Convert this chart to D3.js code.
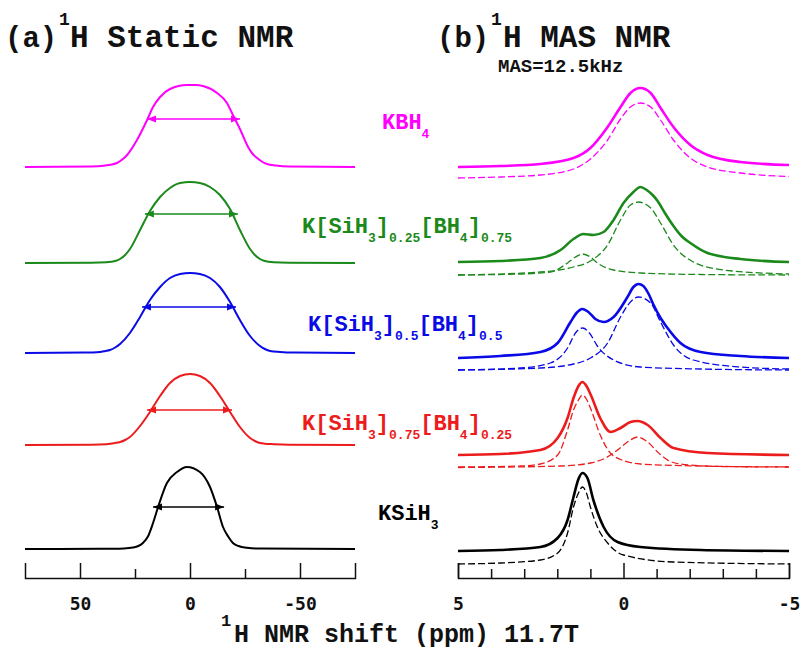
<!DOCTYPE html>
<html>
<head>
<meta charset="utf-8">
<script src="https://cdn.jsdelivr.net/npm/d3@7"></script>
<style>
  body { margin: 0; background: #fff; }
  svg { display: block; }
</style>
</head>
<body>
<svg id="chart" width="803" height="652"></svg>
<script>
// ---------------------------------------------------------------
// Samples (top to bottom) and their label pieces: [text, isSubscript]
// ---------------------------------------------------------------
const sampleNames = ["KBH4", "K[SiH3]0.25[BH4]0.75", "K[SiH3]0.5[BH4]0.5", "K[SiH3]0.75[BH4]0.25", "KSiH3"];
const labelParts = [
  [["KBH", 0], ["4", 1]],
  [["K[SiH", 0], ["3", 1], ["]", 0], ["0.25", 1], ["[BH", 0], ["4", 1], ["]", 0], ["0.75", 1]],
  [["K[SiH", 0], ["3", 1], ["]", 0], ["0.5", 1], ["[BH", 0], ["4", 1], ["]", 0], ["0.5", 1]],
  [["K[SiH", 0], ["3", 1], ["]", 0], ["0.75", 1], ["[BH", 0], ["4", 1], ["]", 0], ["0.25", 1]],
  [["KSiH", 0], ["3", 1]]
];

// ---------------------------------------------------------------
// (a) 1H static spectra: [shift (ppm), intensity (a.u.)]
// ---------------------------------------------------------------
const staticKBH4 = [[75,0],[45,0.5],[39,1.3],[35.5,2.5],[33.2,4],[30.5,8],[28.6,12],[24.1,27],[19.5,47],[16.8,60],[13.6,70],[9.1,78],[1.4,82],[-2.5,82],[-5.9,81],[-12.3,74],[-16.8,64],[-19.5,52],[-22.7,38],[-26.4,20],[-28.5,13],[-30.5,9],[-33,5],[-35,3],[-39,1.5],[-45,0.5],[-75,0]];
const staticMix25 = [[75,0],[45,0.3],[38,0.8],[34,2],[31.8,4],[29.5,8],[27.3,14],[22.7,33],[18.2,52],[13.6,66],[9.1,75],[4.5,80],[0,81],[-4.5,80],[-9.1,76],[-13.6,68],[-18.2,54],[-22.7,33],[-27.3,14],[-29.5,8],[-31.8,4],[-34,2],[-38,0.8],[-45,0.3],[-75,0]];
const staticMix50 = [[75,0],[48,0.4],[40.9,1],[38.5,2],[36.4,3],[34,5.5],[31.8,9],[27.3,20],[22.7,36],[18.2,53],[13.6,66],[9.1,75],[4.5,79],[0,80],[-4.5,79],[-9.1,75],[-13.6,66],[-18.2,51],[-22.7,33],[-27.3,17],[-31.8,7],[-34,4],[-36.4,2],[-40.9,1],[-48,0.4],[-75,0]];
const staticMix75 = [[75,0],[45,0.3],[38,0.8],[34,2],[31.8,3],[29.5,5],[27.3,8],[22.7,19],[18.2,33],[13.6,49],[9.1,62],[4.5,69],[0,71],[-4.5,69],[-9.1,62],[-13.6,49],[-18.2,33],[-22.7,18],[-27.3,7],[-29.5,4],[-31.8,2],[-34,1.3],[-38,0.8],[-45,0.3],[-75,0]];
const staticKSiH3 = [[75,0],[40.9,0.2],[30,0.6],[25.9,1.5],[23.5,3],[21.4,6],[19,13],[16.8,26],[14.5,42],[10.5,66],[5.9,77],[1.4,82],[-4.5,77],[-9.1,62],[-12.3,42],[-15,22],[-17.5,12],[-19.5,6],[-22,3],[-25.9,1.2],[-32,0.4],[-75,0]];
const staticSpectra = [staticKBH4, staticMix25, staticMix50, staticMix75, staticKSiH3];

// Line-width markers on the static spectra: left / right shift (ppm) and height (a.u.)
const widthLeft  = [19.5, 20.5, 21.8, 19.5, 16.8];
const widthRight = [-22.7, -21.8, -20.9, -19.1, -15.5];
const widthLevel = [48, 49, 46, 35, 42];

// ---------------------------------------------------------------
// (b) 1H MAS spectra: measured envelopes and fitted components
// ---------------------------------------------------------------
const masKBH4 = [[5,1],[3.72,2],[2.51,4],[1.51,10],[1.0,20],[0.48,41],[0.09,61],[-0.21,75],[-0.51,80],[-0.82,75],[-1.12,60],[-1.51,41],[-2.02,23],[-2.54,13],[-3.53,6],[-5,3]];
const masMix25 = [[5,3],[3.72,4],[2.51,7],[1.9,15],[1.51,26],[1.21,31],[0.91,30],[0.6,33],[0.3,45],[0,62],[-0.3,73],[-0.51,78],[-0.7,75],[-0.88,70],[-1.03,64],[-1.25,52],[-1.51,39],[-1.75,29],[-2.02,22],[-2.54,12],[-3.53,6],[-5,3]];
const masMix50 = [[5,2],[3.72,4],[2.51,8],[1.99,17],[1.6,38],[1.42,47],[1.24,51],[1.06,48],[0.85,41],[0.6,38],[0.3,43],[-0.12,63],[-0.3,73],[-0.45,76],[-0.6,74],[-0.76,66],[-0.91,55],[-1.12,42],[-1.33,32],[-1.72,17],[-2.33,8],[-3.53,4],[-5,2]];
const masMix75 = [[5,1],[3.72,2],[2.51,6],[1.99,18],[1.69,38],[1.51,58],[1.36,70],[1.24,74],[1.12,70],[1.0,62],[0.69,37],[0.39,24],[0.09,28],[-0.21,34],[-0.42,35],[-0.73,31],[-1.12,18],[-1.51,8],[-2.54,3],[-5,1]];
const masKSiH3 = [[5,1],[3.72,2],[2.51,5],[1.99,14],[1.69,32],[1.51,55],[1.36,73],[1.24,79],[1.09,74],[0.91,52],[0.6,25],[0.18,10],[-0.51,5],[-2.33,2],[-5,1]];
const masSpectra = [masKBH4, masMix25, masMix50, masMix75, masKSiH3];

// Fitted components: SiH3- site near 1.2 ppm, BH4- site near -0.5 ppm
const fitKBH4_BH4  = [[5,1],[3.72,2],[2.51,4],[1.51,10],[1.0,20],[0.48,39],[0.09,60],[-0.21,72],[-0.51,76],[-0.82,72],[-1.12,59],[-1.51,39],[-2.02,21],[-2.54,12],[-3.53,6],[-5,2.5]];
const fitMix25_SiH3 = [[5,1],[3.11,2],[2.21,4],[1.69,13],[1.45,19],[1.24,22],[1.0,19],[0.79,13],[0.3,6],[-0.51,3],[-2.33,1.5],[-5,1]];
const fitMix25_BH4  = [[5,1],[2.51,4],[1.51,9],[1.0,15],[0.48,31],[0.09,56],[-0.21,71],[-0.45,74],[-0.82,68],[-1.12,53],[-1.51,31],[-2.11,14],[-3.02,6],[-5,2]];
const fitMix50_SiH3 = [[5,1],[3.11,3],[2.21,8],[1.69,23],[1.45,38],[1.24,43],[1.03,38],[0.79,25],[0.3,11],[-0.51,4],[-2.33,2],[-5,1]];
const fitMix50_BH4  = [[5,1],[2.51,3],[1.51,7],[1.0,13],[0.48,28],[0.09,54],[-0.21,69],[-0.45,74],[-0.82,68],[-1.12,49],[-1.51,26],[-2.11,11],[-3.53,4],[-5,2]];
const fitMix75_SiH3 = [[5,1],[3.11,2],[2.51,4],[1.99,13],[1.69,38],[1.51,58],[1.36,68],[1.24,73],[1.12,69],[1.0,60],[0.69,32],[0.3,12],[-0.51,4],[-2.33,2],[-5,1]];
const fitMix75_BH4  = [[5,0.5],[1.9,2],[1.0,5],[0.54,10],[0.18,18],[-0.12,26],[-0.42,31],[-0.73,26],[-1.03,16],[-1.33,8],[-1.72,4],[-2.93,1.5],[-5,1]];
const fitKSiH3_SiH3 = [[5,1],[3.72,2],[2.51,5],[1.99,12],[1.69,32],[1.51,58],[1.36,72],[1.24,78],[1.12,72],[1.0,58],[0.79,38],[0.48,22],[0,10],[-1.51,3],[-5,1]];
const fitComponents = [
  [fitKBH4_BH4],
  [fitMix25_SiH3, fitMix25_BH4],
  [fitMix50_SiH3, fitMix50_BH4],
  [fitMix75_SiH3, fitMix75_BH4],
  [fitKSiH3_SiH3]
];

// Axis ticks
const staticMajorTicks = [50, 0, -50];
const staticMinorTicks = [25, -25];
const masMajorTicks = [5, 0, -5];
const masMinorTicks = [4, 3, 2, 1, -1, -2, -3, -4];

// ---------------------------------------------------------------
// Layout and styling
// ---------------------------------------------------------------
const colors = ["#ff00ff", "#1b8a1b", "#0a0ae6", "#ec1c1c", "#000000"];
const monoFont = "'Liberation Mono', 'Courier New', monospace";
const tickFont = "'DejaVu Sans Mono', monospace";

// vertical stacking offsets (a.u.) of each row
const offsetStatic = [413, 317, 227, 135, 31];
const offsetMas    = [412, 315, 220, 124, 28];
const offsetFit    = [401, 304, 209, 112, 15];
const labelX = [382, 302, 308, 302, 378];
const labelY = [129, 233, 331, 430, 520];

const svg = d3.select("#chart");
const axisY = 578;

const xA = d3.scaleLinear().domain([75, -75]).range([25, 355]);
const xB = d3.scaleLinear().domain([5, -5]).range([458, 789]);
const y = d3.scaleLinear().domain([0, 100]).range([axisY + 2, axisY - 98]);

const lineA = off => d3.line().x(d => xA(d[0])).y(d => y(d[1] + off)).curve(d3.curveMonotoneX);
const lineB = off => d3.line().x(d => xB(d[0])).y(d => y(d[1] + off)).curve(d3.curveMonotoneX);

// arrowheads
const defs = svg.append("defs");
colors.forEach((c, i) => {
  defs.append("marker")
    .attr("id", "head" + i)
    .attr("viewBox", "0 0 10 10")
    .attr("refX", 10).attr("refY", 5)
    .attr("markerWidth", 9).attr("markerHeight", 9)
    .attr("markerUnits", "userSpaceOnUse")
    .attr("orient", "auto-start-reverse")
    .append("path")
    .attr("d", "M0,1 L10,5 L0,9 Z")
    .attr("fill", c);
});

// ---------------- panel (a) ----------------
const gA = svg.append("g");
staticSpectra.forEach((s, i) => {
  gA.append("path")
    .attr("d", lineA(offsetStatic[i])(s))
    .attr("fill", "none")
    .attr("stroke", colors[i])
    .attr("stroke-width", 2);
  gA.append("line")
    .attr("x1", xA(widthLeft[i])).attr("x2", xA(widthRight[i]))
    .attr("y1", y(widthLevel[i] + offsetStatic[i])).attr("y2", y(widthLevel[i] + offsetStatic[i]))
    .attr("stroke", colors[i])
    .attr("stroke-width", 1.6)
    .attr("marker-start", `url(#head${i})`)
    .attr("marker-end", `url(#head${i})`);
});

// ---------------- panel (b) ----------------
const gB = svg.append("g");
masSpectra.forEach((s, i) => {
  fitComponents[i].forEach(c => {
    gB.append("path")
      .attr("d", lineB(offsetFit[i])(c))
      .attr("fill", "none")
      .attr("stroke", colors[i])
      .attr("stroke-width", 1.3)
      .attr("stroke-dasharray", "7,3");
  });
  gB.append("path")
    .attr("d", lineB(offsetMas[i])(s))
    .attr("fill", "none")
    .attr("stroke", colors[i])
    .attr("stroke-width", 2.6);
});

// ---------------- sample labels ----------------
labelParts.forEach((parts, i) => {
  const t = svg.append("text")
    .attr("x", labelX[i]).attr("y", labelY[i])
    .attr("fill", colors[i])
    .attr("font-family", monoFont)
    .attr("font-weight", "bold")
    .attr("font-size", 22);
  parts.forEach(([s, sub]) => {
    t.append("tspan")
      .attr("y", sub ? labelY[i] + 9 : labelY[i])
      .attr("font-size", sub ? 13 : 22)
      .text(s);
  });
});

// ---------------- axes ----------------
const fmt = d => (d < 0 ? "-" + Math.abs(d) : String(d));
function drawAxis(x, major, minor) {
  const g = svg.append("g").attr("transform", `translate(0,${axisY})`);
  g.call(d3.axisBottom(x).tickValues(major).tickSizeInner(-15).tickSizeOuter(-15).tickPadding(19).tickFormat(fmt));
  g.append("g").call(d3.axisBottom(x).tickValues(minor).tickSizeInner(-9).tickSizeOuter(0).tickFormat(""))
    .select(".domain").remove();
  g.selectAll("path, line").attr("stroke", "#111").attr("stroke-width", 1.5);
  g.selectAll("text")
    .attr("font-family", tickFont)
    .attr("font-weight", "bold")
    .attr("font-size", 18)
    .attr("fill", "#111");
}
drawAxis(xA, staticMajorTicks, staticMinorTicks);
drawAxis(xB, masMajorTicks, masMinorTicks);

// ---------------- titles ----------------
function bold(x, yy, size, str) {
  return svg.append("text")
    .attr("x", x).attr("y", yy)
    .attr("font-family", monoFont)
    .attr("font-weight", "bold")
    .attr("font-size", size)
    .attr("fill", "#111")
    .text(str);
}
bold(5, 47, 29, "(a)");
bold(59, 25, 18, "1");
bold(70, 47, 31, "H Static NMR");
bold(437, 47, 29, "(b)");
bold(491, 25, 18, "1");
bold(503, 47, 31, "H MAS NMR");
bold(498, 72, 19, "MAS=12.5kHz");
bold(221, 626, 17, "1");
bold(234, 642, 25, "H NMR shift (ppm) 11.7T");
</script>
</body>
</html>
